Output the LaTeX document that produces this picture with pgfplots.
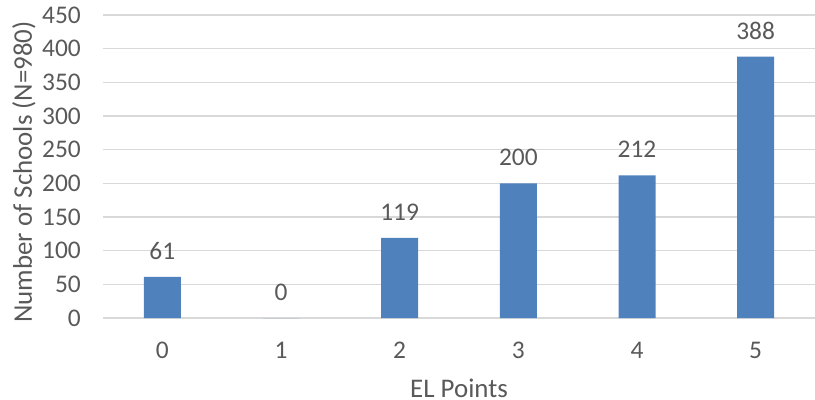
\documentclass[border=0pt]{standalone}
\usepackage{fontspec}
\setmainfont{Carlito}
\usepackage{pgfplots}
\pgfplotsset{compat=1.18}
\definecolor{barblue}{HTML}{4F81BD}
\definecolor{gridgray}{HTML}{D9D9D9}
\definecolor{txtgray}{HTML}{595959}
\begin{document}
\begin{tikzpicture}
\useasboundingbox (0,0) rectangle (815bp,400bp);
\begin{axis}[
  at={(103bp,82bp)}, anchor=south west,
  scale only axis,
  width=712bp, height=303bp,
  xmin=-0.5, xmax=5.5,
  ymin=0, ymax=450,
  ytick={0,50,...,450},
  xtick={0,1,2,3,4,5},
  xticklabels={0,1,2,3,4,5},
  ymajorgrids,
  grid style={gridgray, line width=1.3bp},
  axis line style={draw=none},
  major tick length=0pt,
  tick style={draw=none},
  /pgf/number format/assume math mode=true,
  font=\fontsize{25.5}{30}\selectfont,
  tick label style={txtgray},
  yticklabel style={inner sep=0pt, anchor=east, xshift=-22bp},
  xticklabel style={inner sep=0pt, anchor=center, yshift=-32bp},
  xlabel={EL Points},
  ylabel={Number of Schools (N=980)},
  label style={txtgray, font=\fontsize{27}{32}\selectfont},
  xlabel style={at={(axis description cs:0.5,-0.231)}, anchor=center, inner sep=0pt},
  ylabel style={at={(axis description cs:-0.111,0.482)}, anchor=center, inner sep=0pt},
  ybar, bar width=37bp,
  nodes near coords,
  every node near coord/.append style={txtgray, anchor=center, yshift=26bp, inner sep=0pt, font=\fontsize{25.5}{30}\selectfont},
  clip=false,
]
\addplot[fill=barblue, draw=none] coordinates {(0,61) (1,0) (2,119) (3,200) (4,212) (5,388)};
\end{axis}
\end{tikzpicture}
\end{document}
